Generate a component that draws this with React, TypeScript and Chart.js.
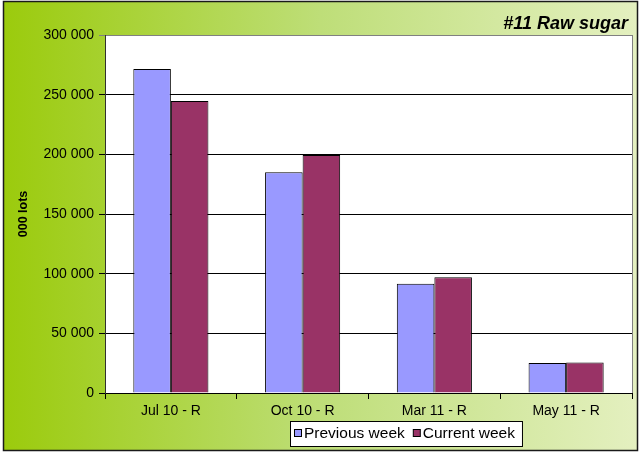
import React, { useEffect, useRef } from 'react';
import { Chart, registerables } from 'chart.js';

Chart.register(...registerables);

const categories = ['Jul 10 - R', 'Oct 10 - R', 'Mar 11 - R', 'May 11 - R'];
const previousWeek = [271500, 184900, 91600, 25100];
const currentWeek = [244700, 199500, 97000, 25500];
const seriesLabels = ['Previous week', 'Current week'];
const seriesColors = ['#9999FF', '#993366'];
const chartTitle = '#11 Raw sugar';
const yAxisTitle = '000 lots';
const yMin = 0;
const yMax = 300000;
const yStep = 50000;

const FONT = '"Liberation Sans", Arial, sans-serif';

const fmt = (v: number) =>
  v === 0 ? '0' : String(Math.round(v)).replace(/\B(?=(\d{3})+(?!\d))/g, ' ');

const decorPlugin = {
  id: 'decor',
  beforeDraw(chart: any) {
    const { ctx, width, height, chartArea } = chart;
    ctx.save();
    ctx.fillStyle = '#ffffff';
    ctx.fillRect(0, 0, width, height);
    const g = ctx.createLinearGradient(3, 0, 638, 0);
    g.addColorStop(0, 'rgb(155,203,12)');
    g.addColorStop(0.5, 'rgb(190,222,120)');
    g.addColorStop(1, 'rgb(228,240,192)');
    ctx.fillStyle = g;
    ctx.fillRect(3, 1, 635, 450);
    ctx.fillStyle = '#ffffff';
    ctx.fillRect(chartArea.left, chartArea.top, chartArea.right - chartArea.left, chartArea.bottom - chartArea.top);
    ctx.restore();
  },
  beforeDatasetsDraw(chart: any) {
    const { ctx, chartArea } = chart;
    ctx.save();
    ctx.strokeStyle = '#808080';
    ctx.lineWidth = 1;
    ctx.beginPath();
    ctx.moveTo(Math.round(chartArea.right) + 0.5, chartArea.top);
    ctx.lineTo(Math.round(chartArea.right) + 0.5, chartArea.bottom);
    ctx.stroke();
    ctx.restore();
  },
  afterDraw(chart: any) {
    const { ctx } = chart;
    ctx.save();
    // outer border
    ctx.strokeStyle = '#1a1a1a';
    ctx.lineWidth = 1.5;
    ctx.strokeRect(3.5, 1.5, 634, 449);

    // title
    ctx.fillStyle = '#000000';
    ctx.font = `italic bold 18px ${FONT}`;
    ctx.textAlign = 'right';
    ctx.textBaseline = 'alphabetic';
    ctx.fillText(chartTitle, 628, 29);

    // legend
    ctx.font = `15.5px ${FONT}`;
    ctx.textAlign = 'left';
    const boxLeft = 290;
    const boxTop = 421;
    const boxH = 25;
    const mk = 7;
    let x = boxLeft + 4;
    const items: { mx: number; tx: number; w: number; i: number }[] = [];
    seriesLabels.forEach((lab, i) => {
      const w = ctx.measureText(lab).width;
      items.push({ mx: x, tx: x + mk + 3, w, i });
      x = x + mk + 3 + w + 8;
    });
    const boxRight = x - 8 + 7;
    ctx.fillStyle = '#ffffff';
    ctx.fillRect(boxLeft, boxTop, boxRight - boxLeft, boxH);
    ctx.strokeStyle = '#000000';
    ctx.lineWidth = 1;
    ctx.strokeRect(boxLeft + 0.5, boxTop + 0.5, boxRight - boxLeft, boxH);
    items.forEach(({ mx, tx, i }) => {
      ctx.fillStyle = seriesColors[i];
      ctx.fillRect(mx + 0.5, 429.5, mk, mk);
      ctx.strokeStyle = '#000000';
      ctx.strokeRect(mx + 0.5, 429.5, mk, mk);
      ctx.fillStyle = '#000000';
      ctx.fillText(seriesLabels[i], tx, 438);
    });
    ctx.restore();
  },
};

export default function App() {
  const ref = useRef<HTMLCanvasElement | null>(null);
  useEffect(() => {
    if (!ref.current) return;
    const chart = new Chart(ref.current, {
      type: 'bar',
      data: {
        labels: categories,
        datasets: [
          {
            label: seriesLabels[0],
            data: previousWeek,
            backgroundColor: seriesColors[0],
            borderColor: '#000000',
            borderWidth: 1,
            barPercentage: 1,
            categoryPercentage: 0.57,
          },
          {
            label: seriesLabels[1],
            data: currentWeek,
            backgroundColor: seriesColors[1],
            borderColor: '#000000',
            borderWidth: 1,
            barPercentage: 1,
            categoryPercentage: 0.57,
          },
        ],
      },
      options: {
        responsive: false,
        animation: false,
        devicePixelRatio: 1,
        layout: { padding: { left: 0, top: 35, right: 8, bottom: 0 } },
        plugins: {
          legend: { display: false },
          tooltip: { enabled: false },
          title: { display: false },
        },
        scales: {
          x: {
            afterFit: (s: any) => {
              s.height = 60;
            },
            grid: {
              offset: true,
              drawOnChartArea: false,
              tickLength: 6,
              color: '#000000',
            },
            border: { color: '#000000', width: 1 },
            ticks: {
              color: '#000000',
              font: { family: FONT, size: 14 },
              padding: 4,
              maxRotation: 0,
            },
          },
          y: {
            min: yMin,
            max: yMax,
            afterFit: (s: any) => {
              s.width = 105;
            },
            title: {
              display: true,
              text: yAxisTitle,
              color: '#000000',
              font: { family: FONT, size: 12.5, weight: 'bold' },
              padding: { top: 16, bottom: 0 },
            },
            grid: {
              tickLength: 6,
              color: (c: any) => (c.tick && c.tick.value === yMax ? '#808080' : '#000000'),
            },
            border: { color: '#303030', width: 1 },
            ticks: {
              stepSize: yStep,
              color: '#000000',
              font: { family: FONT, size: 14 },
              padding: 5,
              callback: (v: any) => fmt(Number(v)),
            },
          },
        },
      },
      plugins: [decorPlugin],
    });
    return () => chart.destroy();
  }, []);
  return (
    <div style={{ position: 'fixed', left: 0, top: 0, width: 640, height: 453 }}>
      <canvas ref={ref} width={640} height={453} style={{ width: 640, height: 453 }} />
    </div>
  );
}
